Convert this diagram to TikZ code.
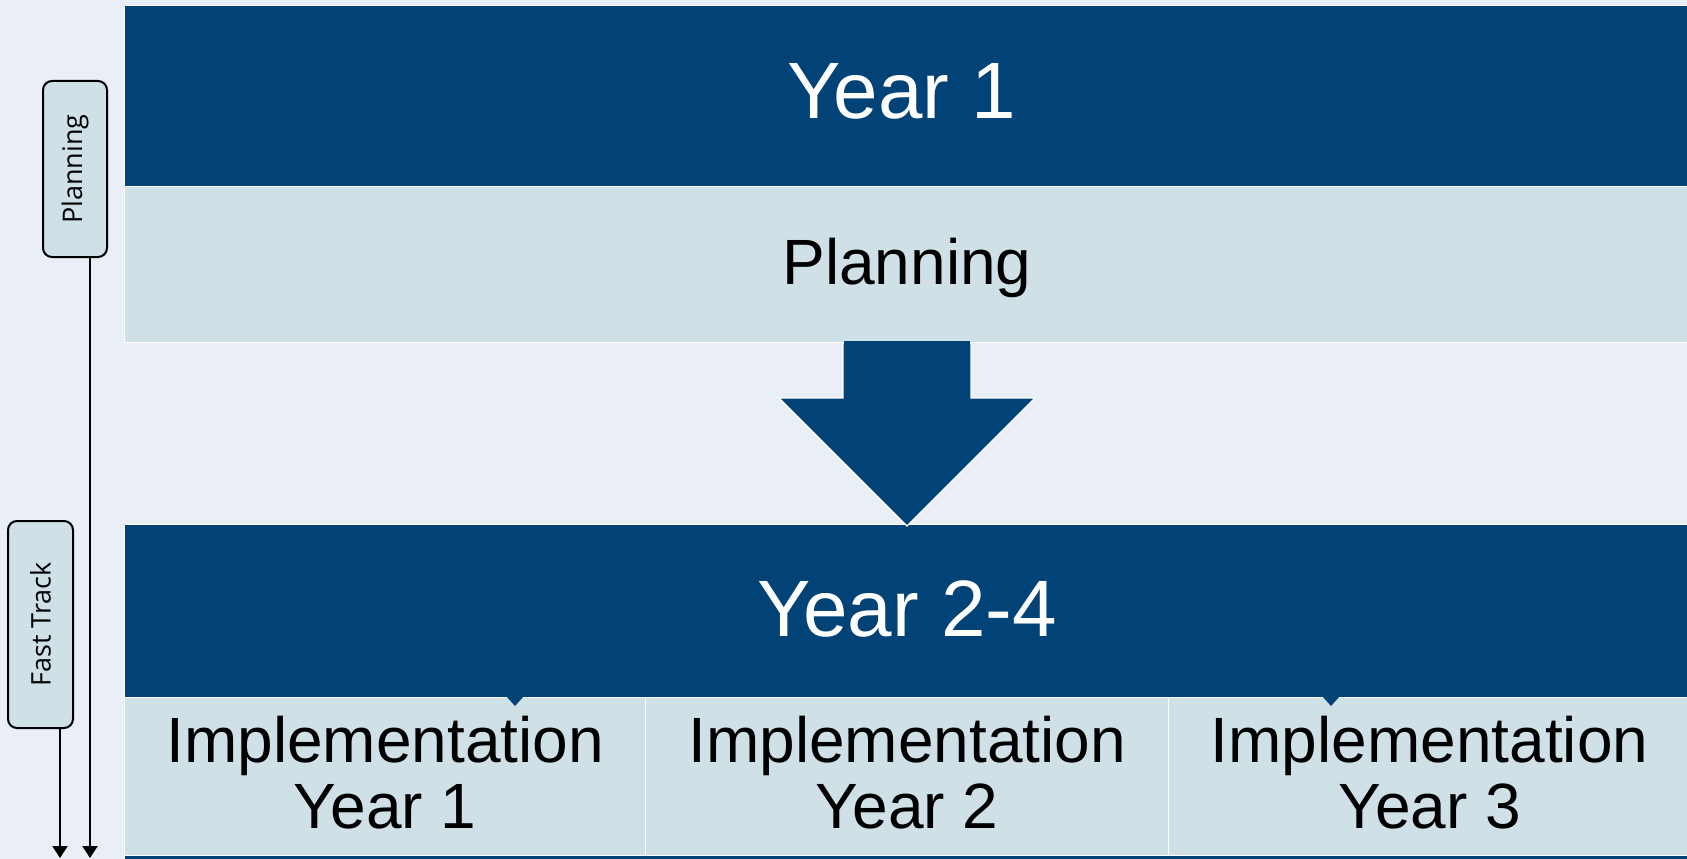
\documentclass[tikz,border=0pt]{standalone}
\usepackage{fontspec}
\setmainfont{Liberation Sans}
\newfontfamily\sidefont{Open Sans}
\usetikzlibrary{arrows.meta}
\definecolor{bgc}{RGB}{234,239,247}
\definecolor{navy}{RGB}{1,67,119}
\definecolor{pale}{RGB}{207,224,231}
\begin{document}
\begin{tikzpicture}[x=1pt,y=-1pt,
  band/.style={rectangle, draw=white, line width=1.2pt, inner sep=0pt, anchor=north west},
  darkband/.style={band, fill=navy},
  paleband/.style={band, fill=pale},
  headtxt/.style={anchor=base, text=white, inner sep=0pt, font=\fontsize{80}{82}\selectfont},
  bodytxt/.style={anchor=base, text=black, inner sep=0pt, font=\fontsize{64}{66}\selectfont},
  sidebox/.style={rectangle, rounded corners=9pt, draw=black, line width=2pt, fill=pale, rotate=90, inner sep=0pt, font=\sidefont\fontsize{27}{30}\selectfont},
  flow/.style={draw=black, line width=2.2pt, -{Triangle[width=15pt,length=12pt]}}
]
\useasboundingbox (0,0) rectangle (1687,859);
\clip (0,0) rectangle (1687,859);
\fill[bgc] (0,0) rectangle (1687,859);

% top group
\node[darkband, minimum width=1566pt, minimum height=181pt] (y1) at (124,5) {};
\node[paleband, minimum width=1566pt, minimum height=156pt] (pl) at (124,186) {};
\node[headtxt] (y1t) at (902,118) {Year 1};
\node[bodytxt] (plt) at (907,284) {Planning};

% second group
\node[darkband, minimum width=1566pt, minimum height=173pt] (y2) at (124,524) {};
\node[paleband, minimum width=521pt, minimum height=158pt] (im1) at (124,697) {};
\node[paleband, minimum width=523pt, minimum height=158pt] (im2) at (645,697) {};
\node[paleband, minimum width=522pt, minimum height=158pt] (im3) at (1168,697) {};
\node[darkband, minimum width=1566pt, minimum height=60pt] (y3) at (124,855) {};
\node[headtxt] (y2t) at (907,636) {Year 2-4};

\node[bodytxt] (im1a) at (im1.center |- 0,762) {Implementation};
\node[bodytxt] (im1b) at (im1.center |- 0,828) {Year 1};
\node[bodytxt] (im2a) at (im2.center |- 0,762) {Implementation};
\node[bodytxt] (im2b) at (im2.center |- 0,828) {Year 2};
\node[bodytxt] (im3a) at (im3.center |- 0,762) {Implementation};
\node[bodytxt] (im3b) at (im3.center |- 0,828) {Year 3};

% notches
\fill[navy] (506,696) -- (524,696) -- (515,706) -- cycle;
\fill[navy] (1322,696) -- (1340,696) -- (1331,706) -- cycle;

% block arrow
\fill[navy, draw=white, line width=1.2pt, line join=miter]
  (843,343) -- (971,343) -- (971,398) -- (1035,398) -- (907,526) -- (779,398) -- (843,398) -- cycle;
\fill[navy] (844,341) rectangle (970,345);

% side labels
\node[sidebox, minimum width=176pt, minimum height=64pt] (sp) at (75,169) {Planning};
\node[sidebox, minimum width=207pt, minimum height=65pt] (sf) at (40.5,624.5) {Fast Track};
\coordinate (spend) at (90,858);
\coordinate (sfend) at (60,858);
\draw[flow] (spend |- sp.west) -- (spend);
\draw[flow] (sfend |- sf.west) -- (sfend);
\end{tikzpicture}
\end{document}
